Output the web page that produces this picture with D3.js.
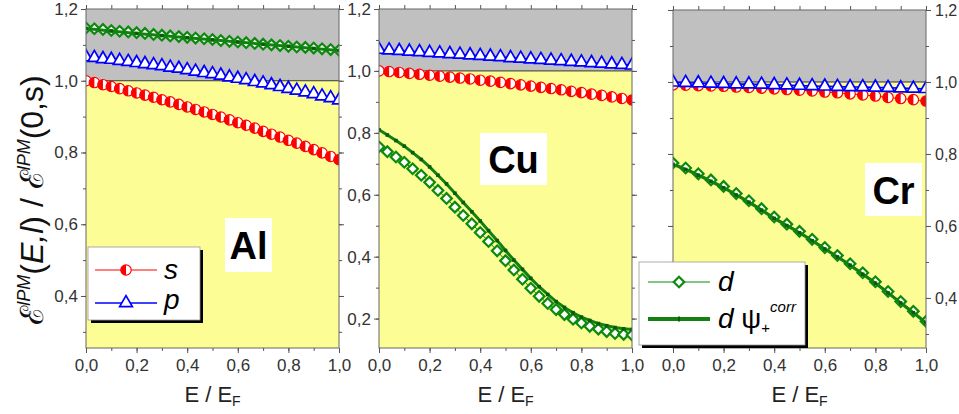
<!DOCTYPE html>
<html>
<head>
<meta charset="utf-8">
<script src="https://cdn.jsdelivr.net/npm/d3@7"></script>
<style>
  body { margin: 0; background: #fff; }
  svg { display: block; font-family: Arial, 'Liberation Sans', sans-serif; }
</style>
</head>
<body>
<script>
const w = 959;
const h = 414;

// x grids (E / E_F)
const gridA = [0, 0.033, 0.067, 0.1, 0.133, 0.167, 0.2, 0.233, 0.267, 0.3, 0.333, 0.367, 0.4, 0.433, 0.467, 0.5,
  0.533, 0.567, 0.6, 0.633, 0.667, 0.7, 0.733, 0.767, 0.8, 0.833, 0.867, 0.9, 0.933, 0.967, 1];
const gridB = [0, 0.04, 0.08, 0.12, 0.16, 0.2, 0.24, 0.28, 0.32, 0.36, 0.4, 0.44, 0.48, 0.52, 0.56, 0.6, 0.64,
  0.68, 0.72, 0.76, 0.8, 0.84, 0.88, 0.92, 0.96, 1];
const gridC = [0, 0.05, 0.1, 0.15, 0.2, 0.25, 0.3, 0.35, 0.4, 0.45, 0.5, 0.55, 0.6, 0.65, 0.7, 0.75, 0.8, 0.85,
  0.9, 0.95, 1];
const gridD = [0, 0.1, 0.2, 0.3, 0.4, 0.5, 0.6, 0.7, 0.8, 0.9, 1];

// tick values
const xTicks = [0, 0.2, 0.4, 0.6, 0.8, 1];
const xMinor = [0, 0.1, 0.2, 0.3, 0.4, 0.5, 0.6, 0.7, 0.8, 0.9, 1];
const yTicksAl = [0.4, 0.6, 0.8, 1.0, 1.2];
const yTicksCu = [0.2, 0.4, 0.6, 0.8, 1.0, 1.2];
const yTicksCr = [0.4, 0.6, 0.8, 1.0, 1.2];
const yMinorAl = [0.3, 0.4, 0.5, 0.6, 0.7, 0.8, 0.9, 1.0, 1.1, 1.2];
const yMinorCu = [0.2, 0.3, 0.4, 0.5, 0.6, 0.7, 0.8, 0.9, 1.0, 1.1, 1.2];

// Al
const alS = [1.000, 0.995, 0.989, 0.984, 0.978, 0.972, 0.966, 0.960, 0.954, 0.947, 0.941, 0.934, 0.927, 0.920,
  0.913, 0.906, 0.899, 0.891, 0.883, 0.876, 0.868, 0.859, 0.851, 0.843, 0.834, 0.826, 0.817, 0.808, 0.799, 0.789, 0.780];
const alP = [1.066, 1.064, 1.061, 1.059, 1.056, 1.053, 1.050, 1.047, 1.044, 1.041, 1.037, 1.034, 1.030, 1.026,
  1.022, 1.019, 1.015, 1.010, 1.006, 1.002, 0.997, 0.993, 0.988, 0.983, 0.978, 0.973, 0.968, 0.963, 0.957, 0.952, 0.946];
const alD = [1.147, 1.145, 1.143, 1.140, 1.138, 1.136, 1.134, 1.132, 1.129, 1.127, 1.125, 1.123, 1.121, 1.119,
  1.117, 1.115, 1.112, 1.110, 1.108, 1.106, 1.104, 1.102, 1.100, 1.098, 1.096, 1.094, 1.093, 1.091, 1.089, 1.087, 1.085];
const alDpsi = [1.146, 1.139, 1.132, 1.126, 1.120, 1.114, 1.108, 1.102, 1.096, 1.090, 1.084];

// Cu
const cuS = [1.000, 0.998, 0.995, 0.992, 0.989, 0.986, 0.983, 0.980, 0.977, 0.974, 0.970, 0.967, 0.963, 0.959,
  0.955, 0.951, 0.947, 0.943, 0.939, 0.934, 0.930, 0.925, 0.921, 0.916, 0.911, 0.906];
const cuP = [1.069, 1.067, 1.065, 1.063, 1.061, 1.059, 1.057, 1.055, 1.053, 1.051, 1.049, 1.047, 1.045, 1.042,
  1.040, 1.038, 1.036, 1.034, 1.032, 1.030, 1.028, 1.026, 1.024, 1.022, 1.020, 1.018];
const cuD = [0.755, 0.739, 0.722, 0.705, 0.684, 0.663, 0.640, 0.614, 0.588, 0.560, 0.533, 0.506, 0.478, 0.449,
  0.419, 0.387, 0.357, 0.327, 0.298, 0.272, 0.249, 0.229, 0.213, 0.198, 0.186, 0.175, 0.166, 0.158, 0.152, 0.149, 0.147];
const cuDpsi = [0.810, 0.793, 0.775, 0.757, 0.736, 0.714, 0.690, 0.663, 0.635, 0.605, 0.575, 0.545, 0.515, 0.484,
  0.452, 0.420, 0.389, 0.359, 0.330, 0.303, 0.278, 0.255, 0.236, 0.219, 0.205, 0.194, 0.184, 0.177, 0.171, 0.167, 0.165];

// Cr
const crS = [0.992, 0.991, 0.990, 0.989, 0.988, 0.986, 0.985, 0.983, 0.981, 0.979, 0.977, 0.975, 0.972, 0.970,
  0.967, 0.964, 0.961, 0.957, 0.954, 0.951, 0.947];
const crP = [0.999, 0.998, 0.997, 0.996, 0.995, 0.994, 0.994, 0.993, 0.992, 0.991, 0.990, 0.989, 0.988, 0.987,
  0.986, 0.986, 0.985, 0.984, 0.983, 0.982, 0.981];
const crD = [0.775, 0.761, 0.745, 0.728, 0.710, 0.690, 0.670, 0.648, 0.625, 0.605, 0.585, 0.563, 0.540, 0.518,
  0.495, 0.470, 0.445, 0.418, 0.390, 0.363, 0.335];
const crDpsi = [0.771, 0.757, 0.741, 0.724, 0.706, 0.686, 0.666, 0.644, 0.621, 0.601, 0.581, 0.559, 0.536, 0.514,
  0.491, 0.466, 0.441, 0.414, 0.386, 0.359, 0.331];

const styles = {
  s: { color: '#ff0000', width: 1, marker: 'half' },
  p: { color: '#0000ff', width: 1.6, marker: 'triangle' },
  d: { color: '#0b8a0b', width: 1, marker: 'diamond' },
  dpsi: { color: '#138013', width: 3, marker: 'dot' },
};

const panels = [
  {
    name: 'Al', x0: 86, x1: 339, y0: 9, y1: 348, yMin: 0.255, yTicks: yTicksAl, yMinor: yMinorAl, side: 'left',
    box: [225, 218, 47, 54],
    series: [['s', gridA, alS], ['p', gridA, alP], ['d', gridA, alD], ['dpsi', gridD, alDpsi]],
  },
  {
    name: 'Cu', x0: 379, x1: 632, y0: 9, y1: 348, yMin: 0.105, yTicks: yTicksCu, yMinor: yMinorCu, side: 'left',
    box: [480, 133, 67, 52],
    series: [['s', gridB, cuS], ['p', gridB, cuP], ['d', gridA, cuD], ['dpsi', gridA, cuDpsi]],
  },
  {
    name: 'Cr', x0: 673, x1: 926, y0: 10, y1: 348, yMin: 0.261, yTicks: yTicksCr, yMinor: yMinorAl, side: 'right',
    box: [865, 163, 57, 53],
    series: [['s', gridC, crS], ['p', gridC, crP], ['d', gridC, crD], ['dpsi', gridC, crDpsi]],
  },
];

const fmt = (d) => d3.format('.1f')(d).replace('.', ',');

let svg = d3.select('body').append('svg').attr('width', w).attr('height', h);

function drawMarker(m, type, color) {
  if (type === 'half') {
    m.append('circle').attr('r', 5.2).attr('fill', '#fff').attr('stroke', color).attr('stroke-width', 1.2);
    m.append('path').attr('d', 'M0,-5.2A5.2,5.2 0 0 0 0,5.2Z').attr('fill', color);
  } else if (type === 'triangle') {
    m.append('path').attr('d', d3.symbol(d3.symbolTriangle, 70)())
      .attr('fill', '#fff').attr('stroke', color).attr('stroke-width', 1.7);
  } else if (type === 'diamond') {
    m.append('path').attr('d', d3.symbol(d3.symbolSquare, 56)()).attr('transform', 'rotate(45)')
      .attr('fill', '#fff').attr('stroke', color).attr('stroke-width', 2.2);
  } else {
    m.append('rect').attr('x', -1.8).attr('y', -1.8).attr('width', 3.6).attr('height', 3.6).attr('fill', '#0a5c0a');
  }
}

function styleAxis(g, size) {
  g.select('.domain').remove();
  g.selectAll('line').attr('stroke', '#555');
  g.selectAll('text').attr('fill', '#333').style('font-size', size || '17px');
}

function drawPanel(p, idx) {
  const x = d3.scaleLinear().domain([0, 1]).range([p.x0, p.x1]);
  const y = d3.scaleLinear().domain([p.yMin, 1.2]).range([p.y1, p.y0]);
  const g = svg.append('g');

  g.append('rect').attr('x', x(0)).attr('y', y(1.2)).attr('width', x(1) - x(0)).attr('height', y(1) - y(1.2))
    .attr('fill', '#c0c0c0');
  g.append('rect').attr('x', x(0)).attr('y', y(1)).attr('width', x(1) - x(0)).attr('height', y(p.yMin) - y(1))
    .attr('fill', '#fdfd96');
  g.append('line').attr('x1', x(0)).attr('x2', x(1)).attr('y1', y(1)).attr('y2', y(1))
    .attr('stroke', '#333').attr('stroke-width', 1);

  const clipId = 'clip' + idx;
  svg.append('clipPath').attr('id', clipId).append('rect')
    .attr('x', x(0)).attr('y', y(1.2)).attr('width', x(1) - x(0)).attr('height', y(p.yMin) - y(1.2));
  const plot = g.append('g').attr('clip-path', `url(#${clipId})`);

  p.series.forEach(([key, xs, ys]) => {
    const st = styles[key];
    const pts = xs.map((v, i) => [v, ys[i]]);
    plot.append('path').datum(pts)
      .attr('d', d3.line().x((d) => x(d[0])).y((d) => y(d[1])))
      .attr('fill', 'none').attr('stroke', st.color).attr('stroke-width', st.width);
    plot.selectAll(null).data(pts).enter().append('g')
      .attr('transform', (d) => `translate(${x(d[0])},${y(d[1])})`)
      .each(function () { drawMarker(d3.select(this), st.marker, st.color); });
  });

  g.append('rect').attr('x', x(0)).attr('y', y(1.2)).attr('width', x(1) - x(0)).attr('height', y(p.yMin) - y(1.2))
    .attr('fill', 'none').attr('stroke', '#666').attr('stroke-width', 1);

  // bottom
  g.append('g').attr('transform', `translate(0,${y(p.yMin)})`)
    .call(d3.axisBottom(x).tickValues(xMinor).tickSize(3).tickFormat(''))
    .call(styleAxis);
  g.append('g').attr('transform', `translate(0,${y(p.yMin)})`)
    .call(d3.axisBottom(x).tickValues(xTicks).tickSize(5).tickPadding(6).tickFormat(fmt))
    .call(styleAxis);
  // top
  g.append('g').attr('transform', `translate(0,${y(1.2)})`)
    .call(d3.axisTop(x).tickValues(xMinor).tickSize(4).tickFormat(''))
    .call(styleAxis);

  // left / right
  const lab = p.side === 'left';
  g.append('g').attr('transform', `translate(${x(0)},0)`)
    .call(d3.axisLeft(y).tickValues(p.yMinor).tickSize(3).tickFormat(''))
    .call(styleAxis);
  g.append('g').attr('transform', `translate(${x(0)},0)`)
    .call(d3.axisLeft(y).tickValues(p.yTicks).tickSize(5).tickPadding(3).tickFormat(lab ? fmt : ''))
    .call(styleAxis);
  g.append('g').attr('transform', `translate(${x(1)},0)`)
    .call(d3.axisRight(y).tickValues(p.yMinor).tickSize(3).tickFormat(''))
    .call(styleAxis);
  g.append('g').attr('transform', `translate(${x(1)},0)`)
    .call(d3.axisRight(y).tickValues(p.yTicks).tickSize(5).tickPadding(4).tickFormat(lab ? '' : fmt))
    .call((a) => styleAxis(a, '16px'));

  // x title
  const t = g.append('text').attr('x', (x(0) + x(1)) / 2).attr('y', 402).attr('text-anchor', 'middle')
    .attr('fill', '#222').style('font-size', '22px');
  t.append('tspan').text('E / E');
  t.append('tspan').text('F').style('font-size', '14px').attr('dy', 4);

  // element label
  const [bx, by, bw, bh] = p.box;
  g.append('rect').attr('x', bx).attr('y', by).attr('width', bw).attr('height', bh).attr('fill', '#fff');
  g.append('text').attr('x', bx + bw / 2).attr('y', by + bh / 2 + 14).attr('text-anchor', 'middle')
    .style('font-size', '38px').style('font-weight', 'bold').attr('fill', '#000').text(p.name);
}

panels.forEach(drawPanel);

// y title
const yt = svg.append('text').attr('transform', 'translate(43,200) rotate(-90)').attr('text-anchor', 'middle')
  .attr('fill', '#111').style('font-size', '32px');
yt.append('tspan').text('ℰ');
yt.append('tspan').text('lPM').style('font-size', '18px').style('font-style', 'italic').attr('dy', -13);
yt.append('tspan').text('(').attr('dy', 13);
yt.append('tspan').text('E,l').style('font-style', 'italic');
yt.append('tspan').text(') / ℰ');
yt.append('tspan').text('lPM').style('font-size', '18px').style('font-style', 'italic').attr('dy', -13);
yt.append('tspan').text('(0,s)').attr('dy', 13);

// legends
function legendBox(x0, y0, bw, bh) {
  svg.append('rect').attr('x', x0 + 3).attr('y', y0 + 3).attr('width', bw).attr('height', bh).attr('fill', '#000');
  svg.append('rect').attr('x', x0).attr('y', y0).attr('width', bw).attr('height', bh)
    .attr('fill', '#fff').attr('stroke', '#999').attr('stroke-width', 0.8);
}

function legendLine(x0, yy, key) {
  const st = styles[key];
  svg.append('line').attr('x1', x0).attr('x2', x0 + 62).attr('y1', yy).attr('y2', yy)
    .attr('stroke', st.color).attr('stroke-width', key === 'dpsi' ? 4 : st.width);
  const m = svg.append('g').attr('transform', `translate(${x0 + 31},${yy})`);
  if (key === 'dpsi') {
    m.append('rect').attr('x', -1).attr('y', -2.5).attr('width', 2).attr('height', 5).attr('fill', '#0a5c0a');
  } else {
    drawMarker(m, st.marker, st.color);
  }
}

legendBox(88, 247, 112, 73);
legendLine(95, 270, 's');
legendLine(95, 303, 'p');
svg.append('text').attr('x', 164).attr('y', 279).style('font-size', '28px').style('font-style', 'italic').text('s');
svg.append('text').attr('x', 164).attr('y', 309).style('font-size', '28px').style('font-style', 'italic').text('p');

legendBox(639, 262, 166, 83);
legendLine(648, 282, 'd');
legendLine(648, 319, 'dpsi');
svg.append('text').attr('x', 718).attr('y', 291).style('font-size', '28px').style('font-style', 'italic').text('d');
const lt = svg.append('text').attr('x', 718).attr('y', 328).style('font-size', '28px');
lt.append('tspan').text('d').style('font-style', 'italic');
lt.append('tspan').text(' ψ');
lt.append('tspan').text('+').style('font-size', '15px').attr('dy', 5);
lt.append('tspan').text('corr').style('font-size', '15px').style('font-style', 'italic').attr('dy', -21);
</script>
</body>
</html>
